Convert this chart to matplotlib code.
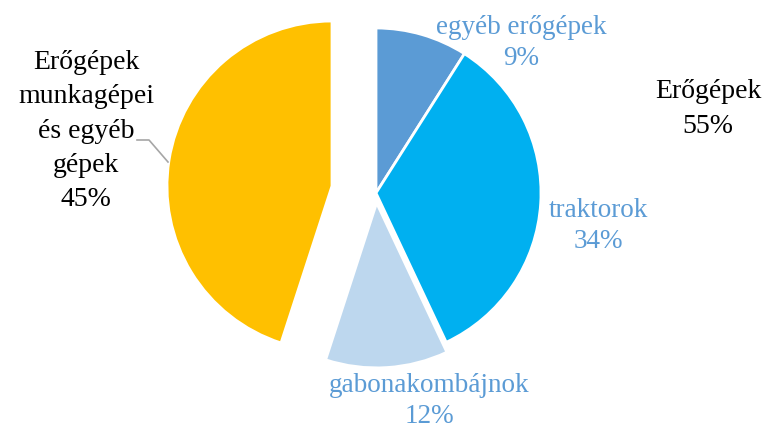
import matplotlib.pyplot as plt

# adatok
categories = ['egyéb erőgépek', 'traktorok', 'gabonakombájnok',
              'Erőgépek\nmunkagépei\nés egyéb\ngépek']
shares = [9, 34, 12, 45]
colors = ['#5B9BD5', '#00B0F0', '#BDD7EE', '#FFC000']
explode = [0, 0, 0.06, 0.27]
group_label = 'Erőgépek'

W, H = 766, 430
cx, cy, R = 376, 193, 165   # pie center / radius in pixels


def px(x, y):
    # pixel -> data coordinates (radius = 1)
    return (x - cx) / R, (cy - y) / R


plt.rcParams['font.family'] = ['Liberation Serif', 'DejaVu Serif']

fig = plt.figure(figsize=(W / 100, H / 100), dpi=100)
ax = fig.add_axes([0, 0, 1, 1])
ax.pie(shares, colors=colors, explode=explode, startangle=90,
       counterclock=False, radius=1,
       wedgeprops=dict(edgecolor='white', linewidth=2))
ax.set_xlim(-cx / R, (W - cx) / R)
ax.set_ylim(-(H - cy) / R, cy / R)
ax.set_aspect('equal')
ax.axis('off')

label_pos = [(521, 43), (598, 226), (429, 401), (86, 131)]
label_col = ['#5B9BD5', '#5B9BD5', '#5B9BD5', 'black']
label_size = [19.5, 19.5, 19.5, 20]
label_ls = [1.3, 1.3, 1.3, 1.48]
for name, val, (x, y), c, s, ls in zip(categories, shares, label_pos,
                                       label_col, label_size, label_ls):
    ax.text(*px(x, y), f'{name}\n{val}%', ha='center', va='center',
            color=c, fontsize=s, linespacing=ls)

# összesítő címke
ax.text(*px(708, 109), f'{group_label}\n{sum(shares[:3])}%', ha='center',
        va='center', color='black', fontsize=20, linespacing=1.48)

# vezetővonal
lx, ly = zip(px(137, 140), px(149, 140), px(168, 162))
ax.plot(lx, ly, color='#A6A6A6', linewidth=1.2)

fig.savefig('out.png', dpi=100)
